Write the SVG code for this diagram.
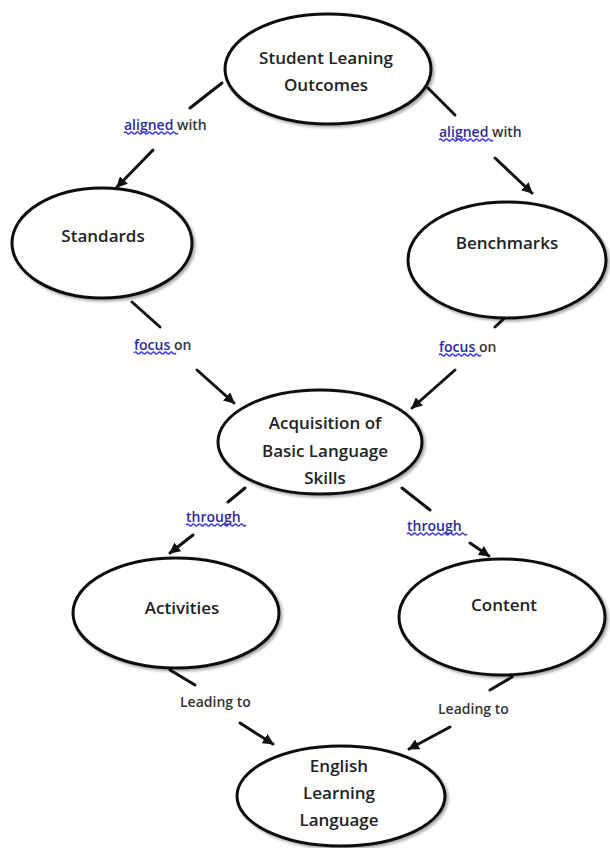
<svg xmlns="http://www.w3.org/2000/svg" width="610" height="848" viewBox="0 0 610 848">
<defs>
<style>
.node ellipse{fill:#fff;stroke:#111;stroke-width:3;filter:url(#sh)}
.nt{font-family:"Open Sans","Liberation Sans",sans-serif;font-weight:600;font-size:17px;fill:#222;text-anchor:middle}
.lt{font-family:"Open Sans","Liberation Sans",sans-serif;font-weight:600;font-size:14px;fill:#333}
.sp{fill:#2b2b9e}
.wv{fill:none;stroke:#3a3adf;stroke-width:1.3}
.edge line{stroke:#111;stroke-width:3;stroke-linecap:round}
</style>
<marker id="ah" viewBox="0 0 10 10" refX="9" refY="5" markerWidth="11" markerHeight="11" markerUnits="userSpaceOnUse" orient="auto">
<path d="M0,0 L10,5 L0,10 z" fill="#111"/>
</marker>
<filter id="sh" x="-10%" y="-10%" width="125%" height="130%">
<feGaussianBlur in="SourceAlpha" stdDeviation="1.5"/>
<feOffset dx="1.5" dy="2" result="b"/>
<feComponentTransfer><feFuncA type="linear" slope="0.35"/></feComponentTransfer>
<feMerge><feMergeNode/><feMergeNode in="SourceGraphic"/></feMerge>
</filter>
</defs>
<rect width="610" height="848" fill="#fff"/>

<g id="connectors" class="edge">
<line x1="222" y1="83" x2="190" y2="108"/>
<line x1="153" y1="150" x2="117" y2="187" marker-end="url(#ah)"/>
<line x1="428" y1="88" x2="455" y2="115"/>
<line x1="495" y1="158" x2="532" y2="193" marker-end="url(#ah)"/>
<line x1="132" y1="302" x2="160" y2="327"/>
<line x1="197" y1="370" x2="234" y2="403" marker-end="url(#ah)"/>
<line x1="510" y1="313" x2="495" y2="327"/>
<line x1="455" y1="370" x2="412" y2="408" marker-end="url(#ah)"/>
<line x1="245" y1="488" x2="228" y2="502"/>
<line x1="193" y1="535" x2="170" y2="553" marker-end="url(#ah)"/>
<line x1="402" y1="488" x2="430" y2="510"/>
<line x1="470" y1="543" x2="489" y2="556" marker-end="url(#ah)"/>
<line x1="170" y1="670" x2="195" y2="685"/>
<line x1="240" y1="723" x2="273" y2="744" marker-end="url(#ah)"/>
<line x1="512" y1="677" x2="490" y2="690"/>
<line x1="450" y1="727" x2="409" y2="749" marker-end="url(#ah)"/>
</g>

<g id="labels">
<text class="lt" x="124" y="130"><tspan class="sp">aligned</tspan> with</text>
<path class="wv" d="M124,133 q1.5,-2 3,0 t3,0 t3,0 t3,0 t3,0 t3,0 t3,0 t3,0 t3,0 t3,0 t3,0 t3,0 t3,0 t3,0 t3,0 t3,0 t3,0 t3,0"/>
<text class="lt" x="439" y="137"><tspan class="sp">aligned</tspan> with</text>
<path class="wv" d="M439,140 q1.5,-2 3,0 t3,0 t3,0 t3,0 t3,0 t3,0 t3,0 t3,0 t3,0 t3,0 t3,0 t3,0 t3,0 t3,0 t3,0 t3,0 t3,0 t3,0"/>
<text class="lt" x="134" y="350"><tspan class="sp">focus</tspan> on</text>
<path class="wv" d="M134,353 q1.5,-2 3,0 t3,0 t3,0 t3,0 t3,0 t3,0 t3,0 t3,0 t3,0 t3,0 t3,0 t3,0 t3,0 t3,0"/>
<text class="lt" x="439" y="352"><tspan class="sp">focus</tspan> on</text>
<path class="wv" d="M439,355 q1.5,-2 3,0 t3,0 t3,0 t3,0 t3,0 t3,0 t3,0 t3,0 t3,0 t3,0 t3,0 t3,0 t3,0 t3,0"/>
<text class="lt sp" x="186" y="522">through</text>
<path class="wv" d="M186,525 q1.5,-2 3,0 t3,0 t3,0 t3,0 t3,0 t3,0 t3,0 t3,0 t3,0 t3,0 t3,0 t3,0 t3,0 t3,0 t3,0 t3,0 t3,0 t3,0 t3,0 t3,0"/>
<text class="lt sp" x="407" y="531">through</text>
<path class="wv" d="M407,534 q1.5,-2 3,0 t3,0 t3,0 t3,0 t3,0 t3,0 t3,0 t3,0 t3,0 t3,0 t3,0 t3,0 t3,0 t3,0 t3,0 t3,0 t3,0 t3,0 t3,0 t3,0"/>
<text class="lt" x="180" y="707">Leading to</text>
<text class="lt" x="438" y="714">Leading to</text>
</g>

<g id="n-slo" class="node">
<ellipse cx="328" cy="69" rx="103" ry="55"/>
<text class="nt" x="326" y="64">Student Leaning</text>
<text class="nt" x="326" y="91">Outcomes</text>
</g>
<g id="n-standards" class="node">
<ellipse cx="102" cy="243" rx="90" ry="55"/>
<text class="nt" x="103" y="242">Standards</text>
</g>
<g id="n-benchmarks" class="node">
<ellipse cx="507" cy="260" rx="99" ry="58"/>
<text class="nt" x="507" y="249">Benchmarks</text>
</g>
<g id="n-acquisition" class="node">
<ellipse cx="320" cy="442" rx="102" ry="52"/>
<text class="nt" x="325" y="429">Acquisition of</text>
<text class="nt" x="325" y="457">Basic Language</text>
<text class="nt" x="325" y="484">Skills</text>
</g>
<g id="n-activities" class="node">
<ellipse cx="176" cy="613" rx="103" ry="55"/>
<text class="nt" x="182" y="614">Activities</text>
</g>
<g id="n-content" class="node">
<ellipse cx="502" cy="617" rx="103" ry="58"/>
<text class="nt" x="504" y="611">Content</text>
</g>
<g id="n-english" class="node">
<ellipse cx="341" cy="796" rx="104" ry="50"/>
<text class="nt" x="339" y="772">English</text>
<text class="nt" x="339" y="799">Learning</text>
<text class="nt" x="339" y="826">Language</text>
</g>
</svg>
